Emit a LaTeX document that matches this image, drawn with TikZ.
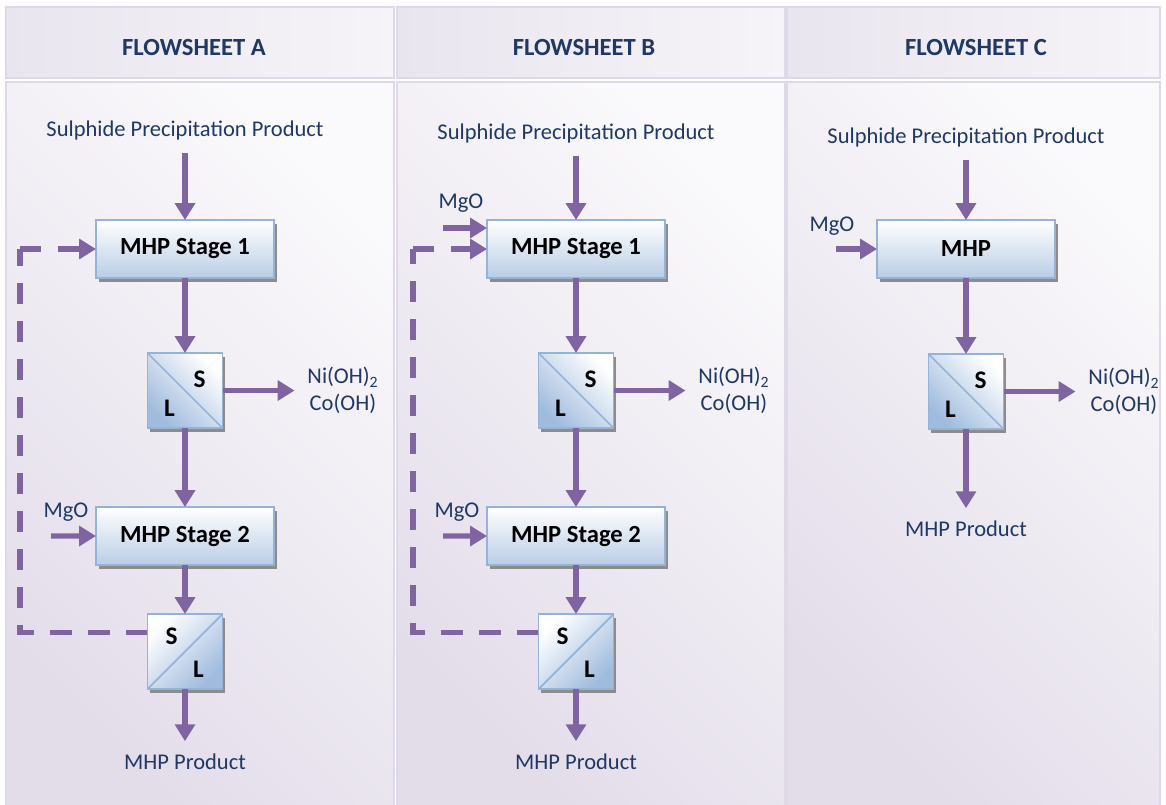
\documentclass[tikz,border=0pt]{standalone}
\usepackage{fontspec}
\setmainfont{Carlito}
\usetikzlibrary{arrows.meta,positioning,shadows}

\definecolor{flowpurple}{HTML}{8064A2}
\definecolor{textnavy}{HTML}{1F3864}
\definecolor{boxblue}{HTML}{B9CDE5}
\definecolor{sepblue}{HTML}{9FBBDD}
\definecolor{boxedge}{HTML}{95B3D7}
\definecolor{headlav}{HTML}{E9E5EF}
\definecolor{headlight}{HTML}{F6F4F8}
\definecolor{bodylav}{HTML}{E3DDEA}
\definecolor{bodylight}{HTML}{FAF9FB}
\definecolor{panelline}{HTML}{DFD9E7}

\begin{document}
\begin{tikzpicture}[
        x=0.025cm, y=-0.025cm,
        headband/.style={left color=headlav, right color=headlight, draw=panelline, line width=1pt},
        bodyband/.style={top color=bodylight, bottom color=bodylav, shading angle=-45, draw=panelline, line width=1pt},
        heading/.style={text=textnavy, font=\fontsize{17.5}{20}\selectfont\bfseries},
        stream/.style={text=textnavy, font=\fontsize{16}{19}\selectfont, inner sep=9pt, align=center},
        mhpbox/.style={
            rectangle,
            draw=boxedge,
            line width=1.2pt,
            top color=white,
            bottom color=boxblue,
            minimum width=4.45cm,
            minimum height=1.45cm,
            outer sep=0pt,
            font=\fontsize{17.5}{20}\selectfont\bfseries,
            drop shadow={shadow xshift=2pt, shadow yshift=-2.5pt, fill=black!45, opacity=1}},
        sepbox/.style={
            rectangle,
            draw=boxedge,
            line width=1.2pt,
            minimum size=1.875cm,
            inner sep=0pt,
            outer sep=0pt,
            drop shadow={shadow xshift=2pt, shadow yshift=-2.5pt, fill=black!45, opacity=1}},
        sepdown/.style={sepbox, top color=white, bottom color=sepblue, shading angle=-45},
        sepup/.style={sepbox, top color=white, bottom color=sepblue, shading angle=45},
        phase/.style={font=\fontsize{18}{20}\selectfont\bfseries, inner sep=0pt},
        myarrow/.style={-{Triangle[width=14pt,length=12pt]}, draw=flowpurple, line width=3.6pt},
        mydash/.style={draw=flowpurple, line width=3.6pt, dash pattern=on 15pt off 12pt}
        ]
        \useasboundingbox (0,0) rectangle (1166,804);

        % panels
        \foreach \x/\w in {6/388, 397/388, 787/373} {
            \draw[headband] (\x,7) rectangle ++(\w,71);
            \draw[bodyband] (\x,82) rectangle ++(\w,724);
        }
        \node[heading] (ha) at (194,48) {FLOWSHEET A};
        \node[heading] (hb) at (584,48) {FLOWSHEET B};
        \node[heading] (hc) at (976,48) {FLOWSHEET C};

        % flowsheet A
        \node[stream] (a0) at (185,130) {Sulphide Precipitation Product};
        \node[mhpbox] (a1) at (185,249) {MHP Stage 1};
        \node[sepdown,below=1.875cm of a1] (a2) {};
        \node[mhpbox,below=1.975cm of a2] (a3) {MHP Stage 2};
        \node[sepup,below=1.225cm of a3] (a4) {};
        \node[stream] (a5) at (185,762) {MHP Product};
        \node[stream,right=1.8cm of a2] (a6) {Ni(OH)\textsubscript{2}\\Co(OH)};
        \node[stream,inner sep=2pt] (a7) at (66,512) {MgO};
        \coordinate (a8) at (51,536);
        \coordinate (a9) at (20,249);
        \draw[boxedge,line width=1.2pt] (a2.north west) -- (a2.south east);
        \draw[boxedge,line width=1.2pt] (a4.south west) -- (a4.north east);
        \node[phase] at ([shift={(-0.575cm,-0.65cm)}]a2.north east) {S};
        \node[phase] at ([shift={(0.55cm,0.5cm)}]a2.south west) {L};
        \node[phase] at ([shift={(0.6cm,-0.55cm)}]a4.north west) {S};
        \node[phase] at ([shift={(-0.6cm,0.5cm)}]a4.south east) {L};

        % flowsheet B
        \node[stream] (b0) at (576,133) {Sulphide Precipitation Product};
        \node[mhpbox] (b1) at (576,249) {MHP Stage 1};
        \node[sepdown,below=1.875cm of b1] (b2) {};
        \node[mhpbox,below=1.975cm of b2] (b3) {MHP Stage 2};
        \node[sepup,below=1.225cm of b3] (b4) {};
        \node[stream] (b5) at (576,762) {MHP Product};
        \node[stream,right=1.8cm of b2] (b6) {Ni(OH)\textsubscript{2}\\Co(OH)};
        \node[stream,inner sep=2pt] (b7) at (461,203) {MgO};
        \node[stream,inner sep=2pt] (b10) at (457,512) {MgO};
        \coordinate (b8) at (443,228);
        \coordinate (b11) at (443,536);
        \coordinate (b9) at (413,249);
        \draw[boxedge,line width=1.2pt] (b2.north west) -- (b2.south east);
        \draw[boxedge,line width=1.2pt] (b4.south west) -- (b4.north east);
        \node[phase] at ([shift={(-0.575cm,-0.65cm)}]b2.north east) {S};
        \node[phase] at ([shift={(0.55cm,0.5cm)}]b2.south west) {L};
        \node[phase] at ([shift={(0.6cm,-0.55cm)}]b4.north west) {S};
        \node[phase] at ([shift={(-0.6cm,0.5cm)}]b4.south east) {L};

        % flowsheet C
        \node[stream] (c0) at (966,137) {Sulphide Precipitation Product};
        \node[mhpbox] (c1) at (966,249) {MHP};
        \node[sepdown,below=1.9cm of c1] (c2) {};
        \node[stream] (c3) at (966,529) {MHP Product};
        \node[stream,right=1.8cm of c2] (c4) {Ni(OH)\textsubscript{2}\\Co(OH)};
        \node[stream,inner sep=2pt] (c5) at (832,226) {MgO};
        \coordinate (c6) at (836,249);
        \draw[boxedge,line width=1.2pt] (c2.north west) -- (c2.south east);
        \node[phase] at ([shift={(-0.575cm,-0.65cm)}]c2.north east) {S};
        \node[phase] at ([shift={(0.55cm,0.5cm)}]c2.south west) {L};

        \foreach \i/\j in {% start/end
            a0/a1, a1/a2, a2/a3, a3/a4, a4/a5, a2/a6, a8/a3,
            b0/b1, b1/b2, b2/b3, b3/b4, b4/b5, b2/b6, b11/b3,
            c0/c1, c1/c2, c2/c3, c2/c4, c6/c1}
            \draw [myarrow] (\i) -- (\j);
        \draw [myarrow] (b8) -- (b8 -| b1.west);

        % recycle of the second solids
        \draw [mydash] ([yshift=-0.45cm]a4.north west) -| (a9);
        \draw [mydash,-{Triangle[width=14pt,length=12pt]}] (a9) -- (a1);
        \draw [mydash] ([yshift=-0.45cm]b4.north west) -| (b9);
        \draw [mydash,-{Triangle[width=14pt,length=12pt]}] (b9) -- (b1);
\end{tikzpicture}
\end{document}
